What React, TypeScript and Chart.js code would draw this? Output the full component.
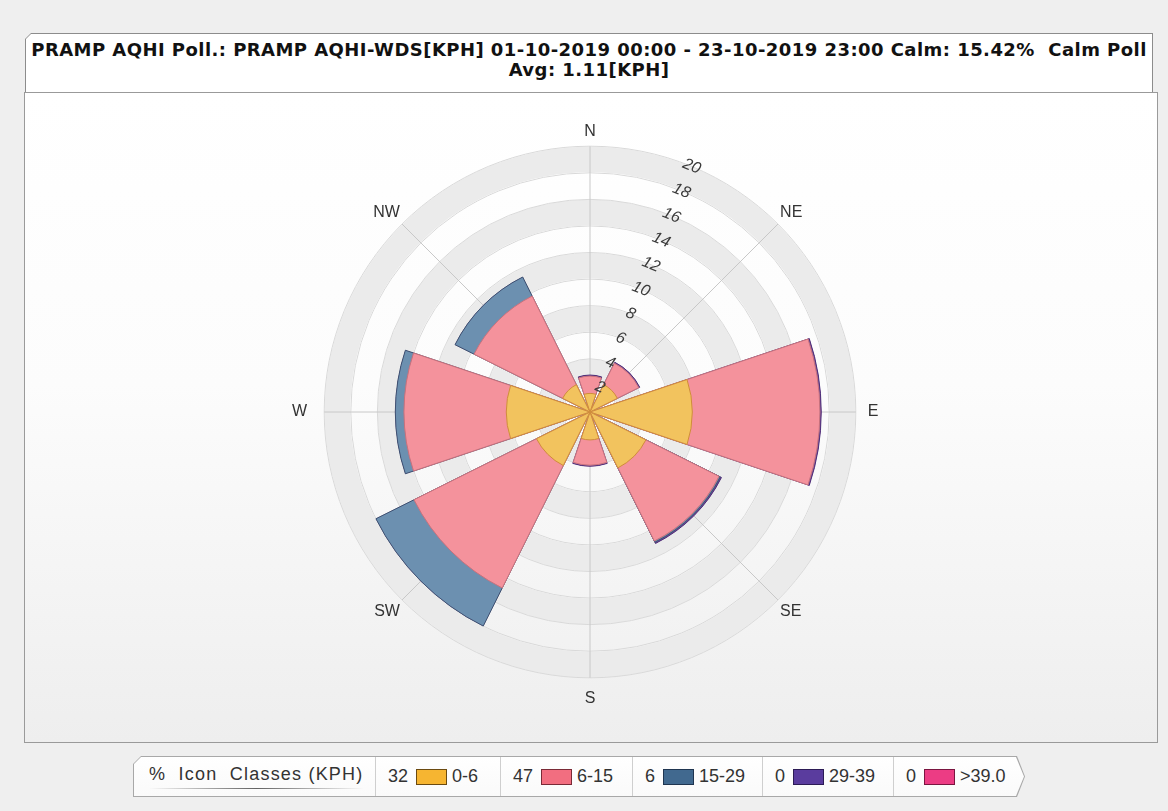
import React, { useEffect, useRef } from "react";
import { Chart, registerables } from "chart.js";

Chart.register(...registerables);

// ---- Data ----
const directions = ["N", "NE", "E", "SE", "S", "SW", "W", "NW"];
const speedClasses = ["0-6", "6-15", "15-29", "29-39", ">39.0"];
const classPercent = [32, 47, 6, 0, 0];
// frequency (%) per direction (N, NE, E, SE, S, SW, W, NW) for each speed class
const freq0to6 = [1.4, 2.3, 7.7, 4.7, 2.1, 4.5, 6.3, 2.3];
const freq6to15 = [1.3, 1.8, 9.6, 6.15, 1.9, 10.3, 7.7, 7.45];
const freq15to29 = [0, 0, 0, 0.1, 0, 3.2, 0.65, 1.6];
const freq29to39 = [0.08, 0.08, 0.1, 0.1, 0.08, 0, 0, 0];
const freqOver39 = [0, 0, 0, 0, 0, 0, 0, 0];
const radialMax = 20;
const titleLine1 =
  "PRAMP AQHI Poll.: PRAMP AQHI-WDS[KPH] 01-10-2019 00:00 - 23-10-2019 23:00 Calm: 15.42%\u00a0 Calm Poll";
const titleLine2 = "Avg: 1.11[KPH]";
const legendHeader = "% \u00a0Icon \u00a0Classes (KPH)";

// ---- Styles ----
const fillColors = ["#F2C35E", "#F4929C", "#6C90B0", "#6A4C9C", "#E84C8A"];
const borderColors = ["#D08C3C", "#C9717C", "#3E5272", "#4B2E78", "#B02060"];
const swatchColors = ["#F6B531", "#F26E80", "#41698F", "#5A3C9E", "#EC3C84"];
const swatchBorders = ["#6b4a10", "#7a2a36", "#1f3550", "#2c1b55", "#7a1540"];
const legendCellWidths = [125, 132, 130, 131, 131];
// point-label padding by label slot (N=15, E=3, S=7, W=11, diagonals odd others)
const labelPadding: Record<number, number> = { 15: -3, 7: 3, 3: 4, 11: 9, 1: -5, 5: -5, 9: -5, 13: -5 };

export default function App() {
  const ref = useRef<HTMLCanvasElement>(null);

  useEffect(() => {
    const canvas = ref.current;
    if (!canvas) return;
    const classes = [freq0to6, freq6to15, freq15to29, freq29to39, freqOver39];
    const cumulative = classes.map((_, c) =>
      directions.map((_, d) => classes.slice(0, c + 1).reduce((s, a) => s + a[d], 0))
    );
    // 24 slots: [gap, wedge, gap] per direction, starting at 22.5deg
    const dirAt = (j: number) => (j % 3 === 1 ? (Math.floor(j / 3) + 1) % 8 : -1);
    const slots = Array.from({ length: 24 }, (_, j) => j);
    const labels = Array.from({ length: 16 }, (_, i) =>
      i % 2 === 1 ? directions[((i + 1) / 2) % 8] : ""
    );

    const chart = new Chart(canvas, {
      type: "polarArea",
      data: {
        labels,
        datasets: classes.map((cls, c) => ({
          label: speedClasses[c],
          data: slots.map((j) => {
            const d = dirAt(j);
            return d < 0 ? 0 : cumulative[c][d];
          }),
          backgroundColor: fillColors[c],
          borderColor: borderColors[c],
          borderWidth: (ctx: any) => {
            const d = dirAt(ctx.dataIndex);
            return d < 0 || cls[d] === 0 ? 0 : 1;
          },
          angle: (ctx: any) => (ctx.dataIndex % 3 === 1 ? 37 : 4),
        })) as any,
      },
      options: {
        responsive: false,
        animation: false,
        layout: { padding: { top: 28, bottom: 31, left: 0, right: 2 } },
        plugins: { legend: { display: false }, tooltip: { enabled: false } },
        scales: {
          r: {
            min: 0,
            max: radialMax,
            startAngle: 22.5,
            beginAtZero: true,
            ticks: {
              stepSize: 1,
              z: 1,
              showLabelBackdrop: false,
              backdropPadding: 0,
              color: "#3a3a3a",
              font: { family: "'Liberation Sans', Arial, sans-serif", size: 16, style: "italic" },
              callback: (v: any) => (Number(v) % 2 === 0 ? String(v) : ""),
            },
            grid: {
              circular: true,
              color: (ctx: any) => {
                const v = ctx.tick.value;
                if (v % 4 === 3) return "#ebebeb";
                if (v % 2 === 0) return "#d9d9d9";
                return "rgba(0,0,0,0)";
              },
              lineWidth: (ctx: any) => {
                const v = ctx.tick.value;
                const unit = ctx.scale.drawingArea / radialMax;
                if (v % 4 === 3) return 2 * unit - 1;
                if (v % 2 === 0) return 1;
                return 0;
              },
            },
            angleLines: {
              display: true,
              color: "#c8c8c8",
              lineWidth: (ctx: any) => (ctx.index % 2 === 1 ? 1 : 0),
            },
            pointLabels: {
              display: true,
              padding: (ctx: any) => labelPadding[ctx.index] ?? 0,
              color: "#333333",
              font: { family: "'Liberation Sans', Arial, sans-serif", size: 16 },
            },
          },
        },
      } as any,
    });
    return () => chart.destroy();
  }, []);

  const sans = "'Liberation Sans', Arial, sans-serif";
  let cellLeft = 242;

  return (
    <div
      style={{
        position: "fixed",
        left: 0,
        top: 0,
        width: 1168,
        height: 811,
        background: "#efefef",
        overflow: "hidden",
      }}
    >
      {/* title box */}
      <div
        style={{
          position: "absolute",
          left: 25,
          top: 33,
          width: 1128,
          height: 60,
          background: "#8c8c8c",
          clipPath: "polygon(6px 0, 100% 0, 100% 100%, 0 100%, 0 6px)",
        }}
      >
        <div
          style={{
            position: "absolute",
            left: 1,
            top: 1,
            right: 1,
            bottom: 0,
            background: "#ffffff",
            clipPath: "polygon(5px 0, 100% 0, 100% 100%, 0 100%, 0 5px)",
            textAlign: "center",
            fontFamily: "'DejaVu Sans', Verdana, sans-serif",
            fontWeight: "bold",
            fontSize: 18,
            letterSpacing: 0.45,
            lineHeight: "20px",
            color: "#111",
            paddingTop: 6,
            whiteSpace: "nowrap",
          }}
        >
          <div>{titleLine1}</div>
          <div>{titleLine2}</div>
        </div>
      </div>

      {/* plot panel */}
      <div
        style={{
          position: "absolute",
          left: 24,
          top: 92,
          width: 1132,
          height: 649,
          border: "1px solid #9a9a9a",
          background: "linear-gradient(#ffffff 0%, #fcfcfc 45%, #eeeeee 100%)",
        }}
      />
      <canvas
        ref={ref}
        width={1134}
        height={651}
        style={{ position: "absolute", left: 24, top: 92, width: 1134, height: 651 }}
      />

      {/* legend */}
      <div
        style={{
          position: "absolute",
          left: 133,
          top: 756,
          width: 892,
          height: 41,
          background: "#a8a8a8",
          clipPath:
            "polygon(8px 0, calc(100% - 8px) 0, 100% 50%, calc(100% - 8px) 100%, 0 100%, 0 8px)",
        }}
      >
        <div
          style={{
            position: "absolute",
            left: 1,
            top: 1,
            right: 1,
            bottom: 1,
            background: "linear-gradient(#ffffff, #fafafa)",
            clipPath:
              "polygon(7px 0, calc(100% - 8px) 0, 100% 50%, calc(100% - 8px) 100%, 0 100%, 0 7px)",
            fontFamily: sans,
            fontSize: 18,
            color: "#333",
          }}
        >
          <div
            style={{
              position: "absolute",
              left: 0,
              top: 0,
              width: 241,
              height: 39,
              borderRight: "1px solid #cfcfcf",
            }}
          >
            <div
              style={{
                position: "absolute",
                left: 15,
                top: 7,
                whiteSpace: "nowrap",
                letterSpacing: 1.2,
              }}
            >
              {legendHeader}
            </div>
            <div
              style={{
                position: "absolute",
                left: 15,
                top: 31,
                width: 215,
                height: 1,
                background:
                  "linear-gradient(to right, rgba(120,120,120,0), rgba(60,60,60,0.8) 50%, rgba(120,120,120,0))",
              }}
            />
          </div>
          {speedClasses.map((cls, i) => {
            const left = cellLeft;
            cellLeft += legendCellWidths[i];
            return (
              <div
                key={cls}
                style={{
                  position: "absolute",
                  left,
                  top: 0,
                  width: legendCellWidths[i] - 1,
                  height: 39,
                  borderRight: i < 4 ? "1px solid #cfcfcf" : "none",
                  display: "flex",
                  alignItems: "center",
                  whiteSpace: "nowrap",
                }}
              >
                <span style={{ marginLeft: 12, minWidth: i < 2 ? 24 : 14 }}>{classPercent[i]}</span>
                <span
                  style={{
                    display: "inline-block",
                    width: 29,
                    height: 14,
                    marginLeft: 4,
                    marginRight: 5,
                    background: swatchColors[i],
                    border: `1px solid ${swatchBorders[i]}`,
                  }}
                />
                <span>{cls}</span>
              </div>
            );
          })}
        </div>
      </div>
    </div>
  );
}
